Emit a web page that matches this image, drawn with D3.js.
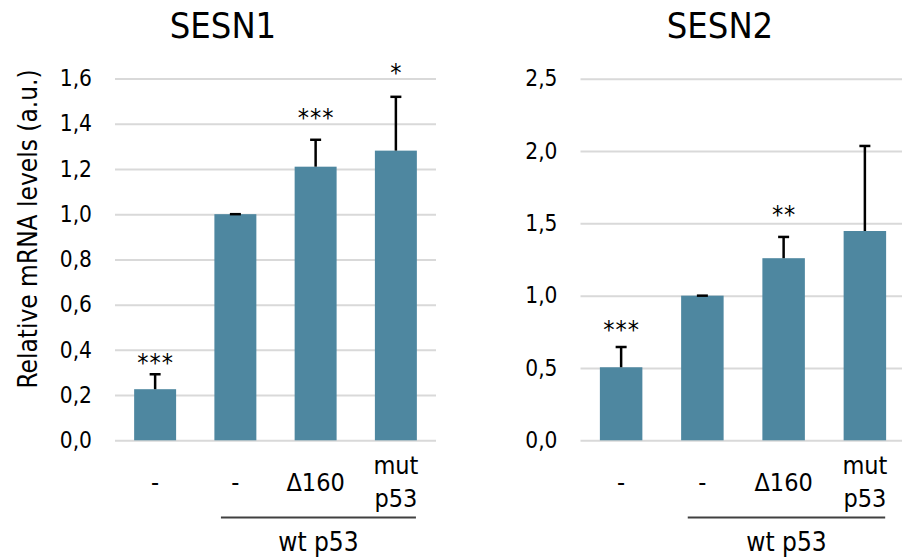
<!DOCTYPE html>
<html lang="en">
<head>
    <meta charset="utf-8">
    <title>SESN1 / SESN2</title>
    <script src="https://d3js.org/d3.v7.min.js"></script>
    <style>
        body{ margin: 0; background: #fff; }
        text{ font-family: "DejaVu Sans Condensed", "Liberation Sans", sans-serif; fill: #000; }
        .grid line{ stroke: #d9d9d9; stroke-width: 2px; }
        .grid text{ font-size: 22.5px; }
        .grid .domain{ display: none; }
        .titleT{ font-size: 36px; }
        .catT{ font-size: 25px; }
        .groupT{ font-size: 26px; }
        .sigT{ font-size: 25px; letter-spacing: 1px; }
        .err{ stroke: #000; stroke-width: 2.5px; }
    </style>
</head>
<body>
    <div id="container"></div>
    <script type="text/javascript">
        // categories (second and third line of the x labels)
        var categories = ['-', '-', 'Δ160', 'mut p53'];
        var groupLabel = 'wt p53';

        // SESN1
        var sesn1Values = [0.226, 1.0, 1.21, 1.281];
        var sesn1Errors = [0.066, 0, 0.119, 0.238];
        var sesn1Sig = ['***', '', '***', '*'];
        var sesn1SigY = [0.369, null, 1.454, 1.653];
        var sesn1Ticks = [0, 0.2, 0.4, 0.6, 0.8, 1.0, 1.2, 1.4, 1.6];

        // SESN2
        var sesn2Values = [0.505, 1.0, 1.259, 1.447];
        var sesn2Errors = [0.14, 0, 0.147, 0.588];
        var sesn2Sig = ['***', '', '**', ''];
        var sesn2SigY = [0.809, null, 1.60, null];
        var sesn2Ticks = [0, 0.5, 1.0, 1.5, 2.0, 2.5];

        var width = 902, height = 559;
        var barColor = '#4e87a0';
        var locale = d3.formatLocale({decimal: ',', thousands: '.', grouping: [3], currency: ['', '']});
        var fmt = locale.format('.1f');

        var svg = d3.select('#container')
                    .append('svg')
                    .attr('width', width)
                    .attr('height', height);

        function drawPanel(opt){
            var g = svg.append('g');
            var x = d3.scaleBand()
                      .domain(d3.range(categories.length))
                      .range([opt.left, opt.right]);
            var y = d3.scaleLinear()
                      .domain([0, opt.max])
                      .range([opt.bottom, opt.top]);
            var bw = x.bandwidth() * 0.523;
            var cx = i => x(i) + x.bandwidth() / 2;

            g.append('g')
             .attr('class', 'grid')
             .attr('transform', 'translate(' + opt.left + ',0)')
             .call(d3.axisLeft(y).tickValues(opt.ticks).tickFormat(fmt)
                     .tickSize(-(opt.right - opt.left)).tickPadding(23));

            g.selectAll('.bar')
             .data(opt.values)
             .enter()
             .append('rect')
             .attr('class', 'bar')
             .attr('fill', barColor)
             .attr('x', (d, i) => cx(i) - bw / 2)
             .attr('width', bw)
             .attr('y', d => y(d))
             .attr('height', d => y(0) - y(d));

            // error bars (upper only)
            opt.values.forEach(function(v, i){
                var top = y(v + opt.errors[i]);
                g.append('line').attr('class', 'err')
                 .attr('x1', cx(i)).attr('x2', cx(i))
                 .attr('y1', y(v)).attr('y2', top);
                g.append('line').attr('class', 'err')
                 .attr('x1', cx(i) - 5.5).attr('x2', cx(i) + 5.5)
                 .attr('y1', top).attr('y2', top);
            });

            // significance stars
            opt.sig.forEach(function(s, i){
                if (!s) return;
                g.append('text')
                 .attr('class', 'sigT')
                 .attr('text-anchor', 'middle')
                 .attr('x', cx(i) + 0.5)
                 .attr('y', y(opt.sigY[i]) + 14.5)
                 .text(s);
            });

            // category labels
            categories.forEach(function(c, i){
                var parts = c.split(' ');
                var t = g.append('text')
                         .attr('class', 'catT')
                         .attr('text-anchor', 'middle');
                if (parts.length === 1){
                    t.attr('x', cx(i)).attr('y', 491).text(c);
                } else {
                    t.append('tspan').attr('x', cx(i)).attr('y', 474).text(parts[0]);
                    t.append('tspan').attr('x', cx(i)).attr('y', 506.5).text(parts[1]);
                }
            });

            // wt p53 bracket
            var x1 = cx(1) - 0.18 * x.step(), x2 = cx(3) + 0.25 * x.step();
            g.append('line')
             .attr('stroke', '#404040')
             .attr('stroke-width', 2)
             .attr('x1', x1).attr('x2', x2)
             .attr('y1', 517.5).attr('y2', 517.5);
            g.append('text')
             .attr('class', 'groupT')
             .attr('text-anchor', 'middle')
             .attr('x', (x1 + x2) / 2)
             .attr('y', 550.5)
             .text(groupLabel);

            g.append('text')
             .attr('class', 'titleT')
             .attr('text-anchor', 'middle')
             .attr('x', opt.titleX)
             .attr('y', 38)
             .text(opt.title);
        }

        drawPanel({title: 'SESN1', titleX: 223, left: 115, right: 436, top: 78.5, bottom: 440.3,
                   max: 1.6, ticks: sesn1Ticks, values: sesn1Values, errors: sesn1Errors,
                   sig: sesn1Sig, sigY: sesn1SigY});
        drawPanel({title: 'SESN2', titleX: 720, left: 580.5, right: 905.5, top: 78.7, bottom: 440.3,
                   max: 2.5, ticks: sesn2Ticks, values: sesn2Values, errors: sesn2Errors,
                   sig: sesn2Sig, sigY: sesn2SigY});

        svg.append('text')
           .attr('font-size', 26)
           .attr('text-anchor', 'middle')
           .attr('transform', 'translate(37,229) rotate(-90)')
           .text('Relative mRNA levels (a.u.)');
    </script>
</body>
</html>
